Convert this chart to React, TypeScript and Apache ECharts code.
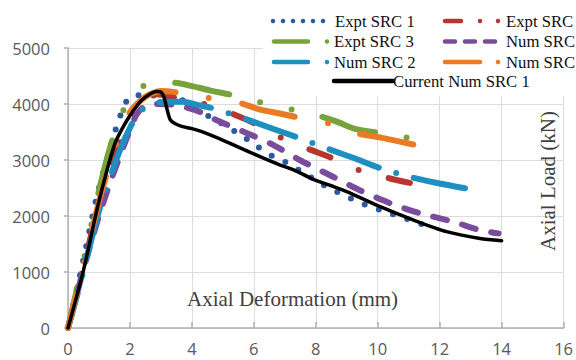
import React, { useEffect, useRef } from "react";
import * as echarts from "echarts";

// ---------- data (x: axial deformation mm, y: axial load kN) ----------
const exptSRC1: number[][] = [
  [0, 0], [0.45, 1100], [0.93, 2350], [1.25, 3000], [1.57, 3600], [1.8, 3950], [2.0, 4130],
  [2.5, 4160], [3.0, 4140], [3.5, 4120], [4.0, 3960], [4.4, 3830], [4.8, 3700], [5.25, 3560],
  [5.7, 3400], [6.1, 3250], [6.5, 3100], [7.0, 2970], [7.45, 2820], [7.9, 2670], [8.35, 2520],
  [8.8, 2400], [9.25, 2285], [9.75, 2170], [10.25, 2080], [10.7, 1990], [11.2, 1900], [11.75, 1790],
];
const exptSRC2: number[][] = [
  [0, 0], [0.5, 1100], [1.0, 2200], [1.5, 3050], [1.75, 3400], [2.15, 3800], [2.35, 4120],
  [2.7, 4180], [3.2, 4150], [3.7, 4080], [4.15, 4040], [4.6, 3960], [5.1, 3870], [5.6, 3760],
  [6.0, 3660], [6.8, 3420], [7.7, 3210], [8.55, 3030], [9.4, 2820], [10.4, 2670], [11.3, 2560],
];
const exptSRC3: number[][] = [
  [0, 0], [0.5, 1200], [1.0, 2450], [1.4, 3300], [1.78, 3880], [2.1, 4150], [2.38, 4310],
  [2.9, 4350], [3.4, 4380], [4.0, 4320], [4.6, 4240], [5.3, 4160], [6.2, 4030], [7.3, 3890],
  [8.2, 3770], [8.7, 3680], [9.3, 3550], [10.1, 3480], [11.05, 3390],
];
const numSRC1: number[][] = [
  [0, 0], [0.55, 1150], [1.0, 2000], [1.35, 2580], [1.8, 3250], [2.2, 3800], [2.45, 3950],
  [2.8, 4000], [3.5, 3980], [4.26, 3860], [4.8, 3710], [5.65, 3510], [6.62, 3270], [7.48, 3000],
  [8.56, 2700], [9.42, 2460], [10.39, 2230], [11.35, 2050], [12.42, 1900], [13.29, 1750], [13.9, 1690],
];
const numSRC2: number[][] = [
  [0, 0], [0.4, 800], [1.03, 2150], [1.68, 3180], [2.1, 3680], [2.4, 3900], [2.75, 4010],
  [3.2, 4040], [3.7, 4040], [4.2, 3980], [4.7, 3920], [5.65, 3750], [6.5, 3580], [7.42, 3400],
  [8.34, 3210], [9.2, 3040], [10.11, 2850], [11.03, 2700], [12.0, 2580], [12.97, 2480],
];
const numSRC3: number[][] = [
  [0, 0], [0.5, 1100], [1.0, 2250], [1.5, 3200], [2.0, 3850], [2.5, 4130], [3.0, 4230],
  [3.5, 4210], [4.0, 4160], [4.5, 4110], [5.0, 4060], [5.55, 4020], [6.2, 3900], [6.84, 3830],
  [7.42, 3760], [8.4, 3655], [9.3, 3480], [10.1, 3400], [11.2, 3270],
];
const currentNumSRC1: number[][] = [
  [0, 0], [0.5, 1030], [0.95, 2150], [1.25, 2800], [1.52, 3300], [1.75, 3560], [1.95, 3750],
  [2.2, 3950], [2.4, 4080], [2.65, 4180], [2.85, 4225], [3.0, 4215], [3.1, 4120], [3.2, 3900],
  [3.3, 3720], [3.45, 3650], [3.67, 3600], [4.0, 3560], [4.3, 3510], [5.1, 3330], [6.2, 3060],
  [6.85, 2910], [7.3, 2820], [7.9, 2660], [8.5, 2540], [9.0, 2435], [10.06, 2170], [11.14, 1930],
  [12.22, 1720], [13.3, 1600], [14.0, 1560],
];

const seriesNames = [
  "Expt SRC 1", "Expt SRC 2", "Expt SRC 3", "Num SRC 1", "Num SRC 2", "Num SRC 3", "Current Num SRC 1",
];
const seriesData = [exptSRC1, exptSRC2, exptSRC3, numSRC1, numSRC2, numSRC3, currentNumSRC1];
const seriesColors = ["#2C5AA0", "#B5372F", "#78A33C", "#7A4D9C", "#1E8FC0", "#EA7A24", "#000000"];

const X_MIN = 0, X_MAX = 16, X_STEP = 2;
const Y_MIN = 0, Y_MAX = 5000, Y_STEP = 1000;

const X_TITLE = "Axial Deformation (mm)";
const Y_TITLE = "Axial Load (kN)";

// line-style patterns (dash lengths in px) and the x (mm) where a dash should begin (pattern phase)
const dashPatterns: (number[] | null)[] = [
  [0, 15],
  [22, 31, 0, 31],
  [55, 32, 0, 32, 0, 32],
  [14, 16],
  [52, 18.5, 0, 18.5],
  [54, 34, 0, 34],
  null,
];
const dashAnchorX: (number | null)[] = [7.43, 7.8, 3.48, 7.36, 5.74, 5.65, null];

export default function App() {
  const ref = useRef<HTMLDivElement>(null);
  useEffect(() => {
    if (!ref.current) return;
    const chart = echarts.init(ref.current, null, { renderer: "svg" });

    const makeSeries = (offsets: number[]) =>
      seriesNames.map((name, i) => {
        const pat = dashPatterns[i];
        const lineStyle: any = pat
          ? { color: seriesColors[i], width: 6, type: pat, cap: "round", dashOffset: offsets[i] || 0 }
          : { color: seriesColors[i], width: 3.5, type: "solid", cap: "round" };
        return {
          name,
          type: "line",
          data: seriesData[i],
          smooth: 0.25,
          showSymbol: false,
          symbol: "none",
          z: 2 + i,
          lineStyle,
          itemStyle: { color: seriesColors[i] },
        };
      });

    // ---------- legend drawn as graphics ----------
    const serif = '"Liberation Serif", "Times New Roman", serif';
    const legendFont = `16.7px ${serif}`;
    const lw = 4.5;
    const seg = (x1: number, x2: number, y: number, color: string) => ({
      type: "line",
      shape: { x1, y1: y, x2, y2: y },
      style: { stroke: color, lineWidth: lw, lineCap: "round" },
      z: 101,
    });
    const dot = (x: number, y: number, color: string) => ({
      type: "circle",
      shape: { cx: x, cy: y, r: lw / 2 },
      style: { fill: color },
      z: 101,
    });
    const label = (x: number, y: number, text: string) => ({
      type: "text",
      x,
      y,
      style: { text, font: legendFont, fill: "#111", verticalAlign: "middle", align: "left" },
      z: 101,
    });
    const r1 = 21, r2 = 41.5, r3 = 62, r4 = 81;
    const legendEls: any[] = [
      { type: "rect", shape: { x: 263, y: 0, width: 313, height: 96 }, style: { fill: "#fff" }, z: 100 },
      ...[273, 283, 293, 303, 313, 323].map((x) => dot(x, r1, seriesColors[0])),
      label(335, r1, seriesNames[0]),
      seg(445, 461, r1, seriesColors[1]), dot(480, r1, seriesColors[1]), dot(498, r1, seriesColors[1]),
      label(506, r1, seriesNames[1]),
      seg(274, 308, r2, seriesColors[2]), dot(327, r2, seriesColors[2]),
      label(334, r2, seriesNames[2]),
      seg(445, 455, r2, seriesColors[3]), seg(465, 475, r2, seriesColors[3]), seg(485, 495, r2, seriesColors[3]),
      label(506, r2, seriesNames[3]),
      seg(274, 308, r3, seriesColors[4]), dot(327, r3, seriesColors[4]),
      label(334, r3, seriesNames[4]),
      seg(445, 480, r3, seriesColors[5]), dot(498, r3, seriesColors[5]),
      label(506, r3, seriesNames[5]),
      seg(334, 393, r4, seriesColors[6]),
      label(393, r4, seriesNames[6]),
    ];

    const titleEls: any[] = [
      {
        type: "text",
        x: 187,
        y: 299,
        style: { text: X_TITLE, font: `21px ${serif}`, fill: "#404040", verticalAlign: "middle", align: "left" },
        z: 50,
      },
      {
        type: "text",
        x: 548,
        y: 181,
        rotation: Math.PI / 2,
        style: { text: Y_TITLE, font: `21px ${serif}`, fill: "#404040", verticalAlign: "middle", align: "center" },
        z: 50,
      },
    ];

    const axisLabelStyle = {
      color: "#595959",
      fontSize: 16.5,
      lineHeight: 17,
      fontFamily: '"Open Sans", "Noto Sans", sans-serif',
      formatter: (v: number) => String(v),
    };

    chart.setOption({
      animation: false,
      backgroundColor: "#fff",
      grid: { left: 68, right: 12, top: 48, bottom: 32, containLabel: false },
      xAxis: {
        type: "value",
        min: X_MIN,
        max: X_MAX,
        interval: X_STEP,
        axisLine: { show: true, onZero: false, lineStyle: { color: "#b0b0b0", width: 1.5 } },
        axisTick: { show: true, inside: true, length: 6, lineStyle: { color: "#b0b0b0", width: 1.5 } },
        splitLine: { show: true, lineStyle: { color: "#dcdcdc", width: 1 } },
        axisLabel: { ...axisLabelStyle, margin: 12 },
      },
      yAxis: {
        type: "value",
        min: Y_MIN,
        max: Y_MAX,
        interval: Y_STEP,
        axisLine: { show: true, onZero: false, lineStyle: { color: "#b0b0b0", width: 1.5 } },
        axisTick: { show: true, inside: false, length: 4, lineStyle: { color: "#b0b0b0", width: 1.5 } },
        splitLine: { show: true, lineStyle: { color: "#dcdcdc", width: 1 } },
        axisLabel: { ...axisLabelStyle, margin: 18 },
      },
      series: makeSeries([]),
      graphic: { elements: [...legendEls, ...titleEls] },
    });

    // phase each dash pattern so a dash starts where it does in the reference
    const offsets = seriesData.map((data, i) => {
      const pat = dashPatterns[i];
      const ax = dashAnchorX[i];
      if (!pat || ax == null) return 0;
      const period = pat.reduce((a, b) => a + b, 0);
      const pts = data.map((p) => chart.convertToPixel({ gridIndex: 0 }, p) as number[]);
      const targetPx = chart.convertToPixel({ gridIndex: 0 }, [ax, 0]) as number[];
      let len = 0;
      for (let k = 1; k < pts.length; k++) {
        const [x0, y0] = pts[k - 1];
        const [x1, y1] = pts[k];
        const segLen = Math.hypot(x1 - x0, y1 - y0);
        if (x1 >= targetPx[0]) {
          const t = (targetPx[0] - x0) / (x1 - x0 || 1);
          len += segLen * Math.max(0, Math.min(1, t));
          break;
        }
        len += segLen;
      }
      return period - (len % period);
    });
    chart.setOption({ series: makeSeries(offsets) });

    return () => chart.dispose();
  }, []);
  return (
    <div
      ref={ref}
      style={{ position: "fixed", left: 0, top: 0, width: 576, height: 360, background: "#fff" }}
    />
  );
}
